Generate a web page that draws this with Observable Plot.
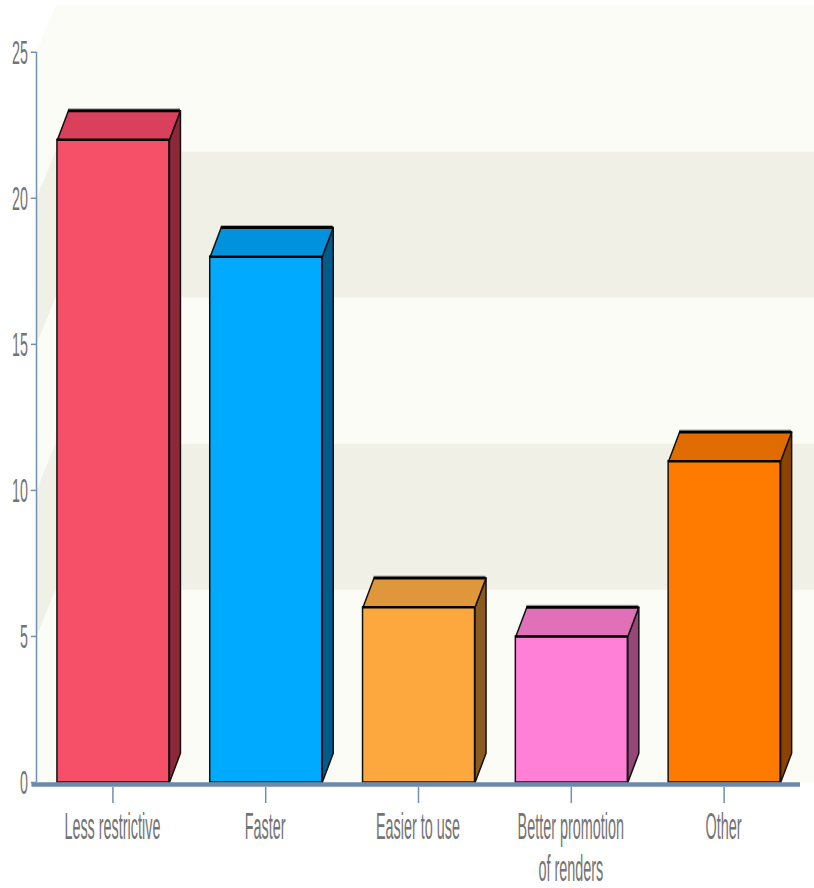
<!DOCTYPE html>
<html><head><meta charset="utf-8">
<script src="https://cdn.jsdelivr.net/npm/d3@7"></script>
<script src="https://cdn.jsdelivr.net/npm/@observablehq/plot@0.6"></script>
<style>body{margin:0;background:#fff;overflow:hidden}</style>
</head><body><div id="chart"></div>
<script>
// ---- data ----
const categories = ["Less restrictive", "Faster", "Easier to use", "Better promotion\nof renders", "Other"];
const values = [22, 18, 6, 5, 11];
const frontColors = ["#f65068", "#00aaff", "#fda83f", "#ff80d6", "#ff7b00"];
const topColors = ["#d8405c", "#0092dd", "#e0963a", "#e070b8", "#e06c00"];
const sideColors = ["#8c2838", "#005a8c", "#8c5a1e", "#954878", "#8c4200"];
const yTicks = [0, 5, 10, 15, 20, 25];
const bandRanges = [[5, 10], [15, 20]];

// ---- geometry (in data units) ----
const barLo = 0.137, barHi = 0.87;      // bar front within each category slot
const bdx = 0.072, bdy = 1;             // bar depth offset
const wdx = 0.124, wdy = 1.6;           // wall depth offset
const yTop = 25, xRight = 5.09;

const marks = [];

// wall
const wall = [[0,0],[0,yTop],[wdx,yTop+wdy],[xRight,yTop+wdy],[xRight,0],[0,0]].map(([x,y])=>({x,y}));
marks.push(Plot.line(wall, {x:"x", y:"y", fill:"#fcfcf6", stroke:"none"}));
for (const [a,b] of bandRanges) {
  const pts = [[0,a],[0,b],[wdx,b+wdy],[xRight,b+wdy],[xRight,a+wdy],[wdx,a+wdy],[0,a]].map(([x,y])=>({x,y}));
  marks.push(Plot.line(pts, {x:"x", y:"y", fill:"#f1f0e7", stroke:"none"}));
}

// bars
values.forEach((v, i) => {
  const x1 = i + barLo, x2 = i + barHi;
  marks.push(Plot.rect([{x1, x2, y1:0, y2:v}], {x1:"x1", x2:"x2", y1:"y1", y2:"y2", fill: frontColors[i], stroke:"#111", strokeWidth:1.5}));
  const side = [[x2,0],[x2+bdx,bdy],[x2+bdx,v+bdy],[x2,v],[x2,0]].map(([x,y])=>({x,y}));
  marks.push(Plot.line(side, {x:"x", y:"y", fill: sideColors[i], stroke:"#111", strokeWidth:1.5}));
  const top = [[x1,v],[x2,v],[x2+bdx,v+bdy],[x1+bdx,v+bdy],[x1,v]].map(([x,y])=>({x,y}));
  marks.push(Plot.line(top, {x:"x", y:"y", fill: topColors[i], stroke:"#111", strokeWidth:1.5}));
  marks.push(Plot.ruleY([v+bdy], {x1: x1+bdx, x2: x2+bdx, stroke:"#aaa", strokeWidth:1, dy:-2}));
  marks.push(Plot.ruleY([v+bdy], {x1: x1+bdx, x2: x2+bdx, stroke:"#000", strokeWidth:3}));
  marks.push(Plot.ruleY([v], {x1, x2, stroke:"#000", strokeWidth:2.5}));
});

// floor line and axes
marks.push(Plot.ruleY([0], {x1:-0.03, x2:5, stroke:"#6b8aab", strokeWidth:4.5, dy:2}));
marks.push(Plot.ruleX([0], {y1:0, y2:25, stroke:"#7090b2", strokeWidth:1.5}));
marks.push(Plot.ruleY(yTicks, {y:d=>d, x1:-0.034, x2:0, stroke:"#7090b2", strokeWidth:1.5}));
marks.push(Plot.ruleX(categories.map((c,i)=>i+0.5), {x:d=>d, y1:-0.17, y2:-0.72, stroke:"#7090b2", strokeWidth:1.5}));

// text labels (condensed look)
marks.push((index, scales) => {
  const sx = scales.x, sy = scales.y;
  const g = d3.create("svg:g").attr("fill", "#747474").attr("font-family", "'Liberation Sans', Arial, sans-serif");
  yTicks.forEach(t => {
    g.append("text").attr("text-anchor", "end").attr("font-size", 34)
      .attr("transform", `translate(${sx(0) - 8},${sy(t) + 12}) scale(0.42,1)`).text(String(t));
  });
  categories.forEach((c, i) => {
    const lines = c.split("\n");
    lines.forEach((ln, j) => {
      g.append("text").attr("text-anchor", "middle").attr("font-size", 36)
        .attr("transform", `translate(${sx(i + 0.5)},${sy(0) + 57 + j * 42}) scale(0.4,1)`).text(ln);
    });
  });
  return g.node();
});

const chart = Plot.plot({
  width: 814, height: 888,
  marginLeft: 36, marginRight: 14, marginTop: 5, marginBottom: 106,
  x: {domain: [0, 5], axis: null},
  y: {domain: [0, yTop + wdy], axis: null},
  marks
});
document.getElementById("chart").appendChild(chart);
</script>
</body></html>
